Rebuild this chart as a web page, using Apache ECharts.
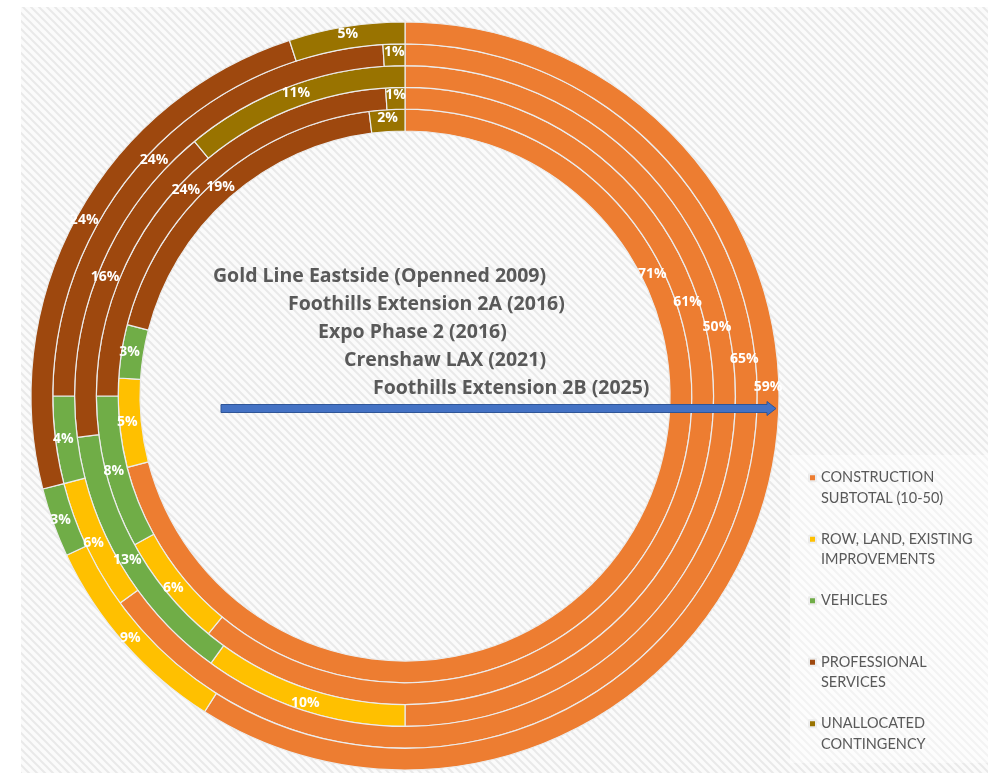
<!DOCTYPE html>
<html>
<head>
<meta charset="utf-8">
<script src="https://cdn.jsdelivr.net/npm/echarts@6/dist/echarts.min.js"></script>
<style>
  html, body { margin: 0; padding: 0; background: #fff; }
  #chart { width: 988px; height: 773px; }
</style>
</head>
<body>
<div id="chart"></div>
<script>
// rings go from the inside out: first project is the innermost ring
const projects = [
  'Gold Line Eastside (Openned 2009)',
  'Foothills Extension 2A (2016)',
  'Expo Phase 2 (2016)',
  'Crenshaw LAX (2021)',
  'Foothills Extension 2B (2025)'
]
const categories = [
  'CONSTRUCTION SUBTOTAL (10-50)',
  'ROW, LAND, EXISTING IMPROVEMENTS',
  'VEHICLES',
  'PROFESSIONAL SERVICES',
  'UNALLOCATED CONTINGENCY'
]
// share of cost in %, one value per project (inner -> outer)
const construction = [71, 61, 50, 65, 59]
const rowLand = [5, 6, 10, 6, 9]
const vehicles = [3, 8, 13, 4, 3]
const professional = [19, 24, 16, 24, 24]
const contingency = [2, 1, 11, 1, 5]

const colors = ['#ED7D31', '#FFC000', '#70AD47', '#9E480E', '#997300']

// layout bits (not data)
const cx = 405
const cy = 396
const innerR = 265
const ringW = 21.8
// the construction labels were dragged up along the arrow in the original
const constructionLabelAngle = [63.7, 71.6, 77.5, 83.8, 88.6]
const projectLabelX = [213, 288, 318, 344, 373]
const projectLabelY = [276, 304, 332, 360, 388]
// blank first line keeps the marker next to the first text line
const legendLines = {
  'CONSTRUCTION SUBTOTAL (10-50)': '\nCONSTRUCTION\nSUBTOTAL (10-50)',
  'ROW, LAND, EXISTING IMPROVEMENTS': '\nROW, LAND, EXISTING\nIMPROVEMENTS',
  'VEHICLES': '\nVEHICLES\n',
  'PROFESSIONAL SERVICES': '\nPROFESSIONAL\nSERVICES',
  'UNALLOCATED CONTINGENCY': '\nUNALLOCATED\nCONTINGENCY'
}

// diagonal hatch like the excel chart area
function makeHatch() {
  const c = document.createElement('canvas')
  c.width = 8
  c.height = 8
  const ctx = c.getContext('2d')
  ctx.fillStyle = '#fbfbfb'
  ctx.fillRect(0, 0, 8, 8)
  ctx.strokeStyle = '#e9e9e9'
  ctx.lineWidth = 2
  ctx.beginPath()
  ctx.moveTo(-2, -2); ctx.lineTo(10, 10)
  ctx.moveTo(-10, -2); ctx.lineTo(2, 10)
  ctx.moveTo(6, -2); ctx.lineTo(18, 10)
  ctx.stroke()
  return c
}

const chart = echarts.init(document.getElementById('chart'))

const series = projects.map((p, i) => {
  const r0 = innerR + ringW * i
  const r1 = r0 + ringW
  const mid = (r0 + r1) / 2
  return {
    name: p,
    type: 'pie',
    center: [cx, cy],
    radius: [r0, r1],
    startAngle: 90,
    clockwise: true,
    avoidLabelOverlap: false,
    silent: true,
    itemStyle: { borderColor: '#ececec', borderWidth: 1.2 },
    label: {
      show: true,
      position: 'inside',
      formatter: '{c}%',
      color: '#fff',
      fontFamily: 'Open Sans',
      fontWeight: 'bold',
      fontSize: 14
    },
    labelLine: { show: false },
    labelLayout: params => {
      if (params.dataIndex !== 0) return {}
      const a = constructionLabelAngle[i] * Math.PI / 180
      return { x: cx + mid * Math.sin(a), y: cy - mid * Math.cos(a) }
    },
    data: [
      { name: categories[0], value: construction[i] },
      { name: categories[1], value: rowLand[i] },
      { name: categories[2], value: vehicles[i] },
      { name: categories[3], value: professional[i] },
      { name: categories[4], value: contingency[i] }
    ]
  }
})

const graphics = [
  {
    type: 'rect', z: -10,
    shape: { x: 21, y: 7, width: 967, height: 766 },
    style: { fill: { image: makeHatch(), repeat: 'repeat' } }
  },
  {
    type: 'rect', z: -9,
    shape: { x: 790, y: 455, width: 198, height: 308 },
    style: { fill: 'rgba(255,255,255,0.45)' }
  },
  {
    type: 'polygon', z: 100,
    shape: {
      points: [[221, 404.5], [767, 404.5], [767, 401.5], [776, 408.5], [767, 415.5], [767, 412.5], [221, 412.5]]
    },
    style: { fill: '#4472C4', stroke: '#2F5597', lineWidth: 1 }
  }
]
projects.forEach((p, i) => {
  graphics.push({
    type: 'text', z: 100,
    x: projectLabelX[i],
    y: projectLabelY[i],
    style: {
      text: p,
      fill: '#595959',
      font: 'bold 19.5px "Open Sans"',
      verticalAlign: 'middle',
      align: 'left'
    }
  })
})

chart.setOption({
  backgroundColor: '#fff',
  animation: false,
  color: colors,
  legend: {
    orient: 'vertical',
    left: 808,
    top: 447,
    padding: 0,
    icon: 'rect',
    itemWidth: 7,
    itemHeight: 7,
    itemGap: 0,
    selectedMode: false,
    data: categories,
    formatter: name => legendLines[name],
    textStyle: {
      color: '#595959',
      fontFamily: 'Lato',
      fontSize: 14.5,
      lineHeight: 20.5
    }
  },
  graphic: graphics,
  series
})
</script>
</body>
</html>
